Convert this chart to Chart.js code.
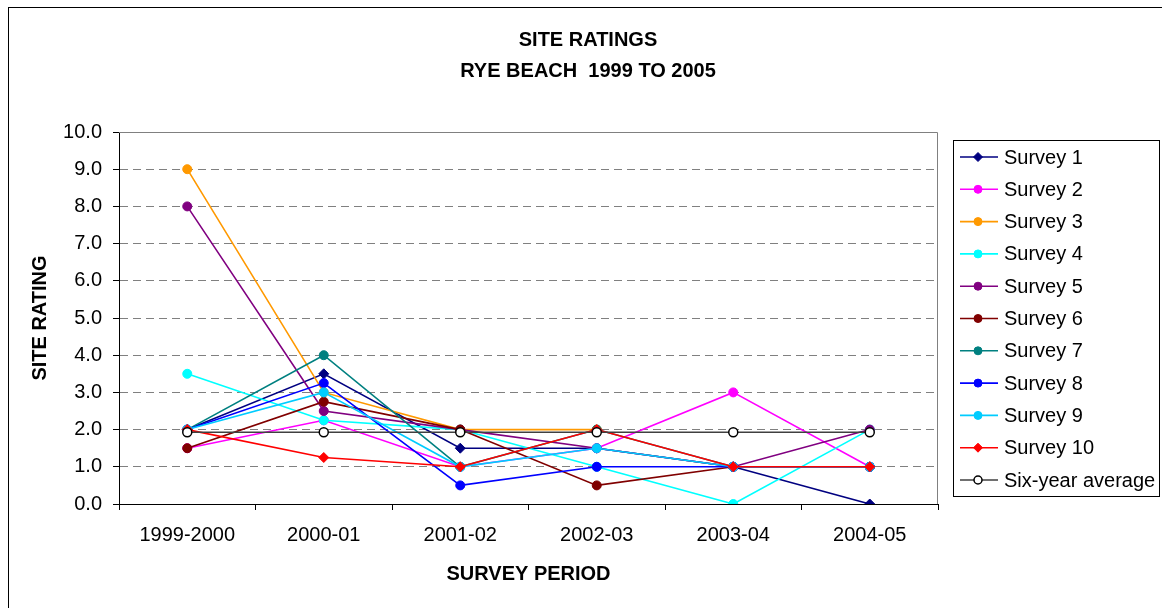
<!DOCTYPE html>
<html>
<head>
<meta charset="utf-8">
<title>Site Ratings - Rye Beach</title>
<script src="https://cdn.jsdelivr.net/npm/chart.js@4/dist/chart.umd.min.js"></script>
<style>
  html, body { margin: 0; padding: 0; background: #fff; }
  #wrap { width: 1162px; height: 608px; }
</style>
</head>
<body>
<div id="wrap"><canvas id="chart" width="1162" height="608"></canvas></div>
<script>
// survey periods
const periods = ['1999-2000', '2000-01', '2001-02', '2002-03', '2003-04', '2004-05'];

// site ratings per survey
const survey1 = [2, 3.5, 1.5, 1.5, 1, 0];
const survey2 = [1.5, 2.25, 1, 1.5, 3, 1];
const survey3 = [9, 3, 2, 2, null, null];
const survey4 = [3.5, 2.25, 2, 1, 0, 2];
const survey5 = [8, 2.5, 2, 1.5, 1, 2];
const survey6 = [1.5, 2.75, 2, 0.5, 1, 1];
const survey7 = [2, 4, 1, 2, 1, 1];
const survey8 = [2, 3.25, 0.5, 1, 1, 1];
const survey9 = [2, 3, 1, 1.5, 1, 1];
const survey10 = [2, 1.25, 1, 2, 1, 1];
const sixYearAvg = [1.93, 1.93, 1.93, 1.93, 1.93, 1.93];

const seriesNames = ['Survey 1', 'Survey 2', 'Survey 3', 'Survey 4', 'Survey 5', 'Survey 6',
  'Survey 7', 'Survey 8', 'Survey 9', 'Survey 10', 'Six-year average'];
const seriesData = [survey1, survey2, survey3, survey4, survey5, survey6,
  survey7, survey8, survey9, survey10, sixYearAvg];
const seriesColors = ['#000080', '#FF00FF', '#FF9900', '#00FFFF', '#800080', '#800000',
  '#008080', '#0000FF', '#00CCFF', '#FF0000', '#404040'];

const FONT = "'Liberation Sans', Arial, sans-serif";

const datasets = seriesData.map((vals, i) => {
  const isAvg = i === seriesData.length - 1;
  const diamond = i === 0 || i === 9;
  return {
    label: seriesNames[i],
    data: vals,
    borderColor: seriesColors[i],
    backgroundColor: isAvg ? '#ffffff' : seriesColors[i],
    pointBackgroundColor: isAvg ? '#ffffff' : seriesColors[i],
    pointBorderColor: isAvg ? '#000000' : seriesColors[i],
    pointBorderWidth: isAvg ? 1.5 : 1,
    pointStyle: diamond ? 'rectRot' : 'circle',
    pointRadius: diamond ? 5 : 4.5,
    borderWidth: 1.6,
    tension: 0,
    spanGaps: false,
    order: seriesData.length - i // later surveys drawn on top
  };
});

// border, titles and the legend box
const decorPlugin = {
  id: 'decor',
  beforeDraw(chart) {
    const ctx = chart.ctx;
    ctx.save();
    ctx.fillStyle = '#ffffff';
    ctx.fillRect(0, 0, chart.width, chart.height);
    ctx.strokeStyle = '#000000';
    ctx.lineWidth = 1;
    ctx.strokeRect(8.5, 7.5, 1200, 700);
    ctx.restore();
  },
  afterDatasetsDraw(chart) {
    const ctx = chart.ctx;
    const a = chart.chartArea;
    ctx.save();
    // plot area border (top / right)
    ctx.strokeStyle = '#808080';
    ctx.lineWidth = 1;
    ctx.beginPath();
    ctx.moveTo(a.left, a.top + 0.5);
    ctx.lineTo(a.right - 0.5, a.top + 0.5);
    ctx.lineTo(a.right - 0.5, a.bottom);
    ctx.stroke();

    // titles
    ctx.fillStyle = '#000000';
    ctx.textAlign = 'center';
    ctx.textBaseline = 'middle';
    ctx.font = 'bold 20px ' + FONT;
    ctx.fillText('SITE RATINGS', 588, 40);
    ctx.fillText('RYE BEACH  1999 TO 2005', 588, 71);

    // legend
    const lx = 953.5, ly = 140.5, lw = 206, lh = 356;
    ctx.strokeStyle = '#000000';
    ctx.strokeRect(lx, ly, lw, lh);
    ctx.font = '20px ' + FONT;
    ctx.textAlign = 'left';
    chart.data.datasets.forEach((ds, i) => {
      const y = 157 + i * 32.3;
      ctx.strokeStyle = ds.borderColor;
      ctx.lineWidth = ds.borderWidth;
      ctx.beginPath();
      ctx.moveTo(960, y);
      ctx.lineTo(998, y);
      ctx.stroke();
      ctx.fillStyle = ds.pointBackgroundColor;
      ctx.strokeStyle = ds.pointBorderColor;
      ctx.lineWidth = ds.pointBorderWidth;
      Chart.helpers.drawPoint(ctx, {
        pointStyle: ds.pointStyle,
        radius: ds.pointStyle === 'rectRot' ? 4.5 : 4,
        rotation: 0,
        borderWidth: ds.pointBorderWidth
      }, 978, y);
      ctx.fillStyle = '#000000';
      ctx.fillText(ds.label, 1004, y + 1);
    });
    ctx.restore();
  }
};

const ctx = document.getElementById('chart').getContext('2d');
new Chart(ctx, {
  type: 'line',
  data: { labels: periods, datasets: datasets },
  options: {
    responsive: false,
    animation: false,
    layout: { padding: { left: 0, right: 224, top: 132, bottom: 0 } },
    plugins: {
      legend: { display: false },
      tooltip: { enabled: false }
    },
    scales: {
      x: {
        offset: true,
        afterFit: (s) => { s.height = 104; },
        grid: {
          offset: true,
          drawOnChartArea: false,
          drawTicks: true,
          tickLength: 6,
          tickColor: '#000000'
        },
        border: { color: '#000000', width: 1 },
        ticks: {
          color: '#000000',
          padding: 13,
          font: { family: FONT, size: 20 },
          maxRotation: 0
        },
        title: {
          display: true,
          text: 'SURVEY PERIOD',
          color: '#000000',
          font: { family: FONT, size: 20, weight: 'bold' },
          padding: { top: 10, bottom: 22 }
        }
      },
      y: {
        min: 0,
        max: 10,
        afterFit: (s) => { s.width = 119; },
        grid: {
          color: '#808080',
          tickColor: '#000000',
          tickLength: 6
        },
        border: { color: '#000000', width: 1, dash: [8, 5] },
        ticks: {
          stepSize: 1,
          color: '#000000',
          padding: 11,
          font: { family: FONT, size: 20 },
          callback: (v) => Number(v).toFixed(1)
        },
        title: {
          display: true,
          text: 'SITE RATING',
          color: '#000000',
          font: { family: FONT, size: 20, weight: 'bold' },
          padding: { top: 28, bottom: 0 }
        }
      }
    }
  },
  plugins: [decorPlugin]
});
</script>
</body>
</html>
